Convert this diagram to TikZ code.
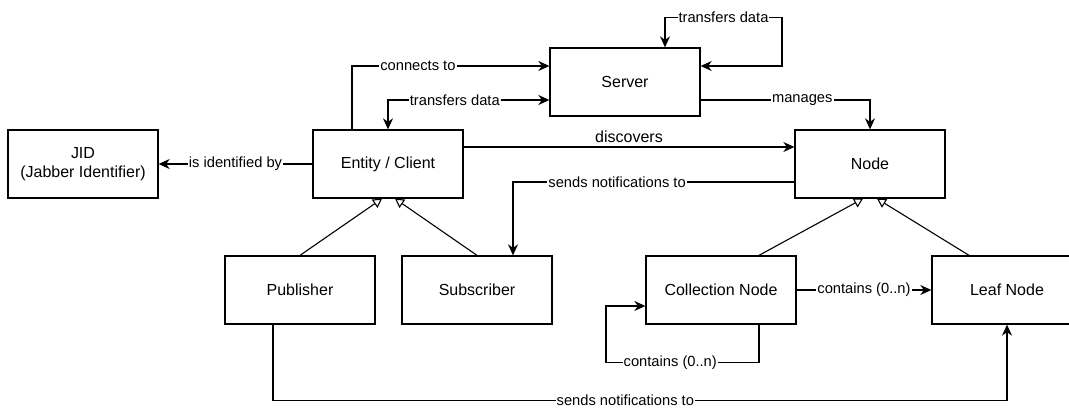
\documentclass[tikz,border=0pt]{standalone}
\usepackage{fontspec}
\setmainfont{Liberation Sans}
\usetikzlibrary{positioning, arrows.meta, calc}

\tikzset{
  box/.style={draw, minimum width=150pt, minimum height=68pt, inner sep=2pt,
    font=\fontsize{16}{19.6}\selectfont, align=center},
  lbl/.style={fill=white, inner sep=1pt, font=\fontsize{14.7}{17}\selectfont},
  inherit/.style={-{Triangle[open, length=9pt, width=10pt, fill=white]}, line width=1.1pt},
}

\begin{document}
\begin{tikzpicture}[x=1pt, y=1pt, >={Stealth[length=11pt, width=10pt, inset=3.5pt]}, line width=1.3pt]

  % --- MOLDURA (tamanho da figura) ---
  \useasboundingbox (0,0) rectangle (1069,-408);

  % --- POSICOES CHAVE ---
  \def\yTop{-82}
  \def\yMid{-164}
  \def\yLow{-290}

  % --- CAIXAS ---
  \node[box] (JID)        at (83, \yMid)   {JID\\(Jabber Identifier)};
  \node[box] (Entity)     at (388, \yMid)  {Entity / Client};
  \node[box] (Server)     at (625, \yTop)  {Server};
  \node[box] (Node)       at (870, \yMid)  {Node};
  \node[box] (Publisher)  at (300, \yLow)  {Publisher};
  \node[box] (Subscriber) at (477, \yLow)  {Subscriber};
  \node[box] (Collection) at (721, \yLow)  {Collection Node};
  \node[box] (Leaf)       at (1007, \yLow) {Leaf Node};

  % --- HERANCA (setas abertas) ---
  \foreach \child/\dx/\parent/\px in {Publisher/0/Entity/-6, Subscriber/0/Entity/7,
                                      Collection/38/Node/-7, Leaf/-38/Node/7} {
    \draw[inherit] ([xshift=\dx pt]\child.north) -- ([xshift=\px pt]\parent.south);
  }

  % --- LIGACOES DO CLIENTE ---
  \draw[->] (Entity.west) -- node[lbl] {is identified by} (JID.east);
  \draw[->] ([xshift=-36pt]Entity.north) |- node[lbl, pos=0.667] {connects to} ([yshift=16pt]Server.west);
  \draw[<->] ([yshift=-18pt]Server.west) -| node[lbl, pos=0.293] {transfers data} (Entity.north);
  \draw[->] ([yshift=17pt]Entity.east) -- node[above, inner sep=4pt, font=\fontsize{16}{19.6}\selectfont] {discovers} ([yshift=17pt]Node.west);

  % --- LIGACOES DO SERVIDOR ---
  % Laco do servidor para ele mesmo
  \draw[<->] ([xshift=40pt]Server.north) -- ++(0,30) -- node[lbl] {transfers data} ++(117,0) |- ([yshift=16pt]Server.east);
  \draw[->] ([yshift=-18pt]Server.east) -| node[lbl, pos=0.3] {manages} (Node.north);

  % --- NOTIFICACOES ---
  \draw[->] ([yshift=-18pt]Node.west) -| node[lbl, pos=0.315] {sends notifications to} ([xshift=36pt]Subscriber.north);
  \draw[->] ([xshift=-27pt]Publisher.south) -- ++(0,-76) -| node[lbl, pos=0.24] {sends notifications to} (Leaf.south);

  % --- CONTEUDO DOS NOS ---
  \draw[->] (Collection.east) -- node[lbl] {contains (0..n)} (Leaf.west);
  \draw[->] ([xshift=38pt]Collection.south) -- ++(0,-38) -- node[lbl, pos=0.58] {contains (0..n)} ++(-153,0) |- ([yshift=-16pt]Collection.west);

\end{tikzpicture}
\end{document}
